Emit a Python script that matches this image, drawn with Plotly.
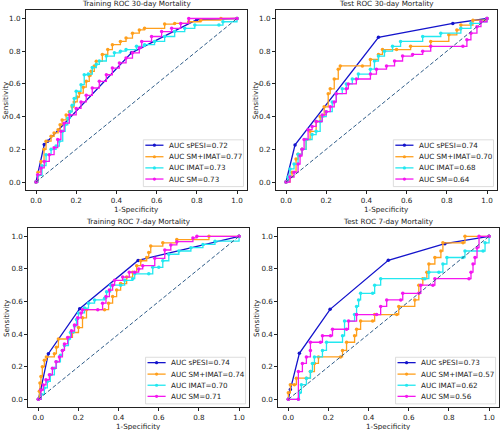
import plotly.graph_objects as go

# ---------------- data ----------------
models = ["sPESI", "SM+IMAT", "IMAT", "SM"]
titles = ["Training ROC 30-day Mortality", "Test ROC 30-day Mortality",
          "Training ROC 7-day Mortality", "Test ROC 7-day Mortality"]
auc_train30 = [0.72, 0.77, 0.73, 0.73]
auc_test30 = [0.74, 0.70, 0.68, 0.64]
auc_train7 = [0.74, 0.74, 0.70, 0.71]
auc_test7 = [0.73, 0.57, 0.62, 0.56]
tick_vals = [0.0, 0.2, 0.4, 0.6, 0.8, 1.0]
tick_text = ["0.0", "0.2", "0.4", "0.6", "0.8", "1.0"]
diag = [0.0, 1.0]

# Training 30-day
tr30_spesi_fpr = [0, 0.041, 0.058, 0.475, 0.80, 1.0]
tr30_spesi_tpr = [0, 0.229, 0.249, 0.790, 0.993, 1.0]
tr30_smimat_fpr = [0, 0.01, 0.025, 0.04, 0.05, 0.075, 0.09, 0.11, 0.12, 0.13, 0.15, 0.166, 0.18, 0.19, 0.205,
                   0.216, 0.235, 0.25, 0.265, 0.274, 0.29, 0.30, 0.33, 0.357, 0.38, 0.42, 0.448, 0.48,
                   0.514, 0.54, 0.64, 0.69, 0.76, 0.82, 0.92, 1.0]
tr30_smimat_tpr = [0, 0.06, 0.126, 0.2, 0.25, 0.28, 0.30, 0.32, 0.35, 0.38, 0.41, 0.43, 0.46, 0.49, 0.52,
                   0.544, 0.58, 0.616, 0.65, 0.677, 0.71, 0.738, 0.78, 0.81, 0.84, 0.86, 0.88, 0.91,
                   0.93, 0.94, 0.966, 0.97, 0.98, 0.99, 1.0, 1.0]
tr30_imat_fpr = [0, 0.01, 0.03, 0.05, 0.075, 0.10, 0.116, 0.133, 0.145, 0.158, 0.17, 0.18, 0.19, 0.2,
                 0.224, 0.24, 0.26, 0.28, 0.30, 0.315, 0.35, 0.39, 0.42, 0.448, 0.50, 0.54, 0.59, 0.64,
                 0.69, 0.74, 0.79, 0.91, 0.93, 1.0]
tr30_imat_tpr = [0, 0.04, 0.1, 0.167, 0.2, 0.22, 0.25, 0.31, 0.35, 0.39, 0.43, 0.47, 0.51, 0.555,
                 0.595, 0.656, 0.66, 0.70, 0.72, 0.74, 0.77, 0.79, 0.80, 0.81, 0.83, 0.84, 0.86, 0.89,
                 0.92, 0.94, 0.96, 0.96, 0.98, 1.0]
tr30_sm_fpr = [0, 0.008, 0.025, 0.041, 0.066, 0.09, 0.108, 0.124, 0.14, 0.166, 0.2, 0.224, 0.25, 0.28,
               0.315, 0.35, 0.38, 0.415, 0.448, 0.48, 0.514, 0.526, 0.575, 0.625, 0.675, 0.72, 0.76, 1.0]
tr30_sm_tpr = [0, 0.045, 0.086, 0.126, 0.167, 0.21, 0.26, 0.31, 0.36, 0.41, 0.45, 0.49, 0.53, 0.575,
               0.616, 0.656, 0.697, 0.728, 0.758, 0.79, 0.82, 0.86, 0.89, 0.92, 0.94, 0.97, 1.0, 1.0]

# Test 30-day
te30_spesi_fpr = [0, 0.045, 0.46, 0.83, 1.0]
te30_spesi_tpr = [0, 0.227, 0.885, 0.97, 1.0]
te30_smimat_fpr = [0, 0.02, 0.03, 0.05, 0.06, 0.08, 0.10, 0.12, 0.15, 0.17, 0.19, 0.21, 0.22, 0.24, 0.26,
                   0.27, 0.38, 0.42, 0.46, 0.48, 0.55, 0.62, 0.72, 0.81, 0.85, 0.87, 0.93, 1.0]
te30_smimat_tpr = [0, 0.03, 0.06, 0.14, 0.17, 0.2, 0.26, 0.31, 0.37, 0.40, 0.46, 0.54, 0.57, 0.63, 0.69,
                   0.71, 0.71, 0.75, 0.78, 0.81, 0.81, 0.83, 0.86, 0.90, 0.93, 0.96, 0.99, 1.0]
te30_imat_fpr = [0, 0.01, 0.02, 0.04, 0.06, 0.08, 0.10, 0.13, 0.15, 0.17, 0.18, 0.20, 0.23, 0.25, 0.28,
                 0.30, 0.33, 0.36, 0.42, 0.44, 0.46, 0.49, 0.53, 0.57, 0.68, 0.77, 0.87, 0.92, 0.97, 1.0]
te30_imat_tpr = [0, 0.03, 0.08, 0.11, 0.17, 0.2, 0.26, 0.29, 0.31, 0.37, 0.40, 0.43, 0.49, 0.54, 0.57,
                 0.60, 0.63, 0.66, 0.69, 0.74, 0.77, 0.80, 0.83, 0.86, 0.89, 0.91, 0.94, 0.97, 0.98, 1.0]
te30_sm_fpr = [0, 0.02, 0.04, 0.06, 0.07, 0.08, 0.09, 0.11, 0.13, 0.15, 0.18, 0.20, 0.22, 0.24, 0.25,
               0.30, 0.31, 0.35, 0.42, 0.45, 0.50, 0.54, 0.58, 0.63, 0.68, 0.72, 0.88, 0.90, 0.92, 0.95,
               0.97, 1.0]
te30_sm_tpr = [0, 0.03, 0.06, 0.11, 0.16, 0.2, 0.26, 0.32, 0.34, 0.37, 0.41, 0.43, 0.46, 0.49, 0.54,
               0.57, 0.60, 0.63, 0.66, 0.69, 0.71, 0.74, 0.77, 0.78, 0.80, 0.83, 0.83, 0.87, 0.91, 0.95,
               0.98, 1.0]

# Training 7-day
tr7_spesi_fpr = [0, 0.012, 0.05, 0.206, 0.497, 1.0]
tr7_spesi_tpr = [0, 0.06, 0.28, 0.556, 0.852, 1.0]
tr7_smimat_fpr = [0, 0.005, 0.008, 0.013, 0.02, 0.03, 0.04, 0.08, 0.09, 0.10, 0.15, 0.17, 0.20, 0.22,
                  0.24, 0.33, 0.35, 0.37, 0.39, 0.41, 0.44, 0.47, 0.49, 0.51, 0.54, 0.55, 0.56, 0.62,
                  0.69, 0.85, 1.0]
tr7_smimat_tpr = [0, 0.05, 0.10, 0.14, 0.20, 0.24, 0.26, 0.28, 0.32, 0.37, 0.38, 0.41, 0.44, 0.50,
                  0.55, 0.55, 0.59, 0.63, 0.67, 0.71, 0.75, 0.78, 0.82, 0.85, 0.87, 0.90, 0.94, 0.96,
                  0.98, 1.0, 1.0]
tr7_imat_fpr = [0, 0.015, 0.03, 0.045, 0.06, 0.08, 0.09, 0.11, 0.12, 0.13, 0.15, 0.16, 0.18, 0.19, 0.20,
                0.23, 0.25, 0.28, 0.33, 0.34, 0.36, 0.41, 0.43, 0.47, 0.48, 0.55, 0.57, 0.60, 0.62, 0.65,
                0.70, 0.76, 0.82, 0.88, 1.0]
tr7_imat_tpr = [0, 0.03, 0.07, 0.11, 0.15, 0.19, 0.23, 0.27, 0.30, 0.33, 0.37, 0.41, 0.45, 0.49, 0.53,
                0.56, 0.59, 0.61, 0.62, 0.66, 0.70, 0.70, 0.73, 0.74, 0.77, 0.77, 0.81, 0.81, 0.85, 0.89,
                0.91, 0.93, 0.95, 0.97, 1.0]
tr7_sm_fpr = [0, 0.013, 0.025, 0.038, 0.055, 0.07, 0.088, 0.105, 0.12, 0.13, 0.146, 0.165, 0.18, 0.196,
              0.213, 0.22, 0.296, 0.32, 0.337, 0.354, 0.37, 0.38, 0.42, 0.453, 0.48, 0.50, 0.52, 0.58,
              0.63, 0.66, 0.69, 0.77, 0.79, 1.0]
tr7_sm_tpr = [0, 0.057, 0.088, 0.12, 0.15, 0.19, 0.23, 0.26, 0.30, 0.34, 0.38, 0.42, 0.456, 0.50,
              0.53, 0.55, 0.55, 0.59, 0.63, 0.67, 0.70, 0.73, 0.75, 0.78, 0.78, 0.80, 0.82, 0.865,
              0.916, 0.947, 0.967, 0.99, 1.0, 1.0]

# Test 7-day
te7_spesi_fpr = [0, 0.01, 0.055, 0.208, 0.498, 0.78, 1.0]
te7_spesi_tpr = [0, 0.06, 0.282, 0.552, 0.853, 0.955, 1.0]
te7_smimat_fpr = [0, 0.0, 0.01, 0.03, 0.04, 0.09, 0.11, 0.13, 0.15, 0.26, 0.27, 0.29, 0.33, 0.34, 0.36,
                  0.42, 0.43, 0.54, 0.55, 0.63, 0.65, 0.67, 0.69, 0.70, 0.73, 0.76, 0.77, 0.87, 0.88, 1.0]
te7_smimat_tpr = [0, 0.04, 0.09, 0.09, 0.13, 0.13, 0.17, 0.22, 0.26, 0.26, 0.30, 0.35, 0.39, 0.43, 0.48,
                  0.48, 0.52, 0.52, 0.57, 0.61, 0.70, 0.74, 0.78, 0.83, 0.87, 0.91, 0.96, 0.96, 1.0, 1.0]
te7_imat_fpr = [0, 0.05, 0.055, 0.065, 0.09, 0.11, 0.12, 0.13, 0.17, 0.19, 0.27, 0.28, 0.33, 0.34, 0.35,
                0.36, 0.42, 0.43, 0.46, 0.68, 0.70, 0.75, 0.77, 0.79, 0.87, 0.88, 0.97, 0.98, 1.0]
te7_imat_tpr = [0, 0.0, 0.04, 0.09, 0.13, 0.17, 0.22, 0.26, 0.30, 0.35, 0.39, 0.48, 0.52, 0.57, 0.61,
                0.65, 0.65, 0.70, 0.74, 0.74, 0.78, 0.78, 0.83, 0.87, 0.87, 0.91, 0.91, 0.96, 1.0]
te7_sm_fpr = [0, 0.05, 0.05, 0.07, 0.09, 0.11, 0.11, 0.16, 0.17, 0.21, 0.22, 0.29, 0.30, 0.34, 0.44,
              0.46, 0.49, 0.56, 0.57, 0.65, 0.66, 0.72, 0.73, 0.90, 0.91, 0.92, 0.93, 0.94, 0.95, 1.0]
te7_sm_tpr = [0, 0.0, 0.17, 0.22, 0.26, 0.30, 0.35, 0.35, 0.39, 0.39, 0.43, 0.43, 0.48, 0.52, 0.52,
              0.57, 0.61, 0.61, 0.65, 0.65, 0.70, 0.70, 0.74, 0.74, 0.78, 0.83, 0.87, 0.93, 1.0, 1.0]

# ---------------- styling ----------------
colors = ["#1414cc", "#ff9f1c", "#22e8f0", "#f516f0"]
diag_color = "#2f5c88"
font_family = "DejaVu Sans"
fs = 7.2
text_color = "#222222"

panels = [
    (titles[0], [(tr30_spesi_fpr, tr30_spesi_tpr), (tr30_smimat_fpr, tr30_smimat_tpr),
                 (tr30_imat_fpr, tr30_imat_tpr), (tr30_sm_fpr, tr30_sm_tpr)], auc_train30),
    (titles[1], [(te30_spesi_fpr, te30_spesi_tpr), (te30_smimat_fpr, te30_smimat_tpr),
                 (te30_imat_fpr, te30_imat_tpr), (te30_sm_fpr, te30_sm_tpr)], auc_test30),
    (titles[2], [(tr7_spesi_fpr, tr7_spesi_tpr), (tr7_smimat_fpr, tr7_smimat_tpr),
                 (tr7_imat_fpr, tr7_imat_tpr), (tr7_sm_fpr, tr7_sm_tpr)], auc_train7),
    (titles[3], [(te7_spesi_fpr, te7_spesi_tpr), (te7_smimat_fpr, te7_smimat_tpr),
                 (te7_imat_fpr, te7_imat_tpr), (te7_sm_fpr, te7_sm_tpr)], auc_test7),
]

x_domains = [[0.0519, 0.4941], [0.5519, 0.9941], [0.0566, 0.4982], [0.5566, 0.9982]]
y_domains = [[0.5577, 0.976], [0.5577, 0.976], [0.0524, 0.4694], [0.0524, 0.4694]]

fig = go.Figure()
layout = dict(width=500, height=430, margin=dict(l=0, r=0, t=0, b=0),
              paper_bgcolor="white", plot_bgcolor="white", showlegend=False,
              font=dict(family=font_family, size=fs, color=text_color))
annotations = []
shapes = []

leg_rows = [0.25, 0.186, 0.124, 0.062]

for i, (title, curves, aucs) in enumerate(panels):
    sfx = "" if i == 0 else str(i + 1)
    xr, yr = "x" + sfx, "y" + sfx
    axis_common = dict(range=[-0.05, 1.05], tickvals=tick_vals, ticktext=tick_text,
                       ticks="outside", ticklen=3, tickwidth=0.8, tickcolor=text_color,
                       showline=True, mirror=True, linecolor=text_color, linewidth=0.9,
                       showgrid=False, zeroline=False,
                       tickfont=dict(family=font_family, size=fs, color=text_color))
    layout["xaxis" + sfx] = dict(axis_common, domain=x_domains[i], anchor=yr)
    layout["yaxis" + sfx] = dict(axis_common, domain=y_domains[i], anchor=xr)

    for k, (fx, ty) in enumerate(curves):
        fig.add_trace(go.Scatter(
            x=fx, y=ty, xaxis=xr, yaxis=yr, mode="lines+markers",
            line=dict(color=colors[k], width=1.3, shape="linear" if k == 0 else "hv"),
            marker=dict(color=colors[k], size=3.5),
            name="AUC %s=%.2f" % (models[k], aucs[k])))
    fig.add_trace(go.Scatter(x=diag, y=diag, xaxis=xr, yaxis=yr, mode="lines",
                             line=dict(color=diag_color, width=1, dash="4px,2.2px")))

    xd, yd = xr + " domain", yr + " domain"
    annotations.append(dict(text=title, x=0.5, y=1, xref=xd, yref=yd, xanchor="center",
                            yanchor="bottom", yshift=0, showarrow=False,
                            font=dict(size=fs, color=text_color)))
    annotations.append(dict(text="Sensitivity", x=0, y=0.5, xref=xd, yref=yd, xanchor="center",
                            yanchor="middle", xshift=-21, textangle=-90, showarrow=False,
                            font=dict(size=fs, color=text_color)))
    annotations.append(dict(text="1-Specificity", x=0.5, y=0, xref=xd, yref=yd, xanchor="center",
                            yanchor="middle", yshift=-19, showarrow=False,
                            font=dict(size=fs, color=text_color)))
    # legend box
    shapes.append(dict(type="rect", xref=xd, yref=yd, x0=0.531, x1=0.984, y0=0.02, y1=0.28,
                       line=dict(color="#d4d4d4", width=0.8), fillcolor="rgba(255,255,255,0.85)",
                       layer="above"))
    for k in range(4):
        shapes.append(dict(type="line", xref=xd, yref=yd, x0=0.54, x1=0.622,
                           y0=leg_rows[k], y1=leg_rows[k],
                           line=dict(color=colors[k], width=1.3), layer="above"))
        shapes.append(dict(type="circle", xref=xd, yref=yd, xsizemode="pixel", ysizemode="pixel",
                           xanchor=0.581, yanchor=leg_rows[k], x0=-1.6, x1=1.6, y0=-1.6, y1=1.6,
                           line=dict(width=0), fillcolor=colors[k], layer="above"))
        annotations.append(dict(text="AUC %s=%.2f" % (models[k], aucs[k]), x=0.636, y=leg_rows[k],
                                xref=xd, yref=yd, xanchor="left", yanchor="middle",
                                showarrow=False, font=dict(size=fs, color=text_color)))

layout["annotations"] = annotations
layout["shapes"] = shapes
fig.update_layout(**layout)
fig.write_html("out.html", config={"displayModeBar": False})

# remove the default page margin so the figure sits at the window's top-left corner
with open("out.html", "r", encoding="utf-8") as f:
    html = f.read()
html = html.replace("<head>", "<head><style>html,body{margin:0;padding:0;overflow:hidden;}</style>", 1)
with open("out.html", "w", encoding="utf-8") as f:
    f.write(html)
